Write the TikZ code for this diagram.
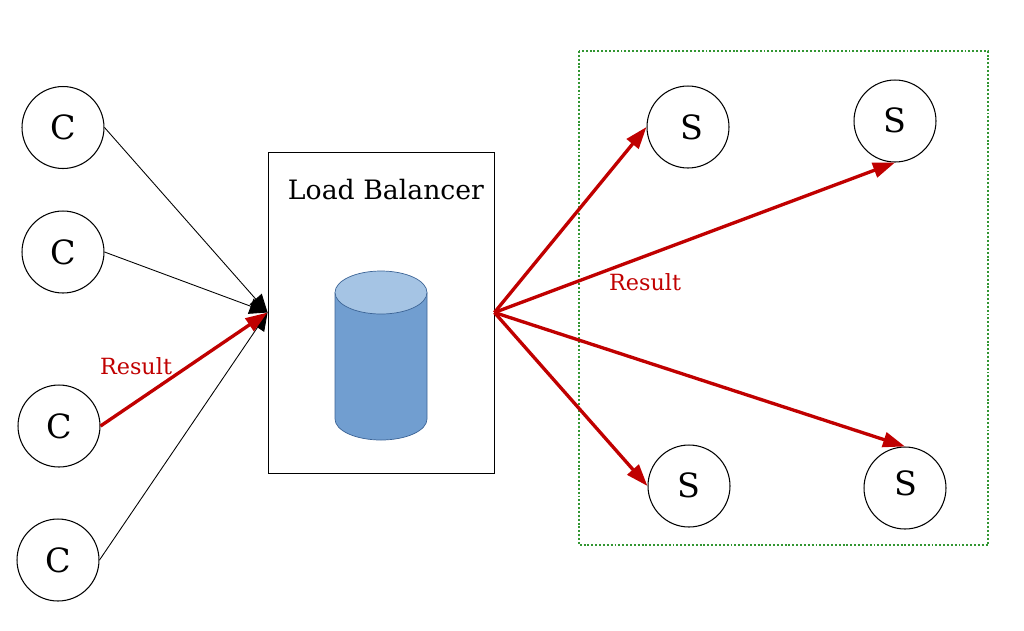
\documentclass[tikz,border=0pt]{standalone}
\usepackage{fontspec}
\setmainfont{DejaVu Serif}
\usetikzlibrary{arrows.meta}
\definecolor{resred}{RGB}{192,0,0}
\definecolor{groupgreen}{RGB}{50,150,50}
\definecolor{drumblue}{RGB}{113,158,208}
\definecolor{drumtop}{RGB}{165,196,228}
\definecolor{drumline}{RGB}{60,100,150}
\tikzset{
    host/.style={draw=black,line width=0.6pt,circle,inner sep=0pt,minimum size=1.64cm,font=\fontsize{19}{23}\selectfont},
    plain/.style={draw=black,line width=0.5pt,-{Triangle[length=0.36cm,width=0.32cm]}},
    result/.style={draw=resred,line width=1.9pt,-{Triangle[length=0.44cm,width=0.3cm]}},
    restext/.style={text=resred,font=\fontsize{12.7}{15}\selectfont},
    drum/.style={draw=drumline,line width=0.4pt}
}
\def\gxs{579}
\def\gxe{988}
\def\gys{51}
\def\gye{545}
\begin{document}
\begin{tikzpicture}[x=0.02cm,y=-0.02cm]
    \useasboundingbox (0,0) rectangle (1024,630);
    \draw [draw=groupgreen,line width=1.1pt,dash pattern=on 1.1pt off 1.1pt] (\gxs,\gys) rectangle (\gxe,\gye);

    \node[draw=black,line width=0.5pt,inner sep=0pt,minimum width=4.52cm,minimum height=6.42cm] (lb) at (381,312.5) {};
    \node[font=\fontsize{15.2}{18}\selectfont] (lbtext) at (386,190) {Load Balancer};

    \draw[drum,fill=drumblue] (335,292.5) -- (335,419) arc[start angle=180,end angle=0,x radius=46,y radius=21] -- (427,292.5);
    \draw[drum,fill=drumtop] (381,292.5) ellipse[x radius=46,y radius=21.5];

    \node[host] (c1) at (63,127.5) {C};
    \node[host] (c2) at (63,252) {C};
    \node[host] (c3) at (59,426) {C};
    \node[host] (c4) at (58,560) {C};
    \node[host] (s1) at (688,127) {\hspace*{0.14cm}S};
    \node[host] (s2) at (895,121) {\raisebox{0.04cm}{S}};
    \node[host] (s3) at (689,486) {\raisebox{0.03cm}{S}};
    \node[host] (s4) at (905,488) {\raisebox{0.2cm}{\hspace*{0.04cm}S}};

    \draw[plain] (c1.east) -- (lb.west);
    \draw[plain] (c2.east) -- (lb.west);
    \draw[plain] (c4.east) -- (lb.west);
    \draw[result] (c3.east) -- (lb.west);
    \draw[result] (lb.east) -- (s1.west);
    \draw[result] (lb.east) -- (s2.south);
    \draw[result] (lb.east) -- (s3.west);
    \draw[result] (lb.east) -- (s4.north);

    \node[restext] (res1) at (136,366) {Result};
    \node[restext] (res2) at (645,282) {Result};
\end{tikzpicture}
\end{document}
